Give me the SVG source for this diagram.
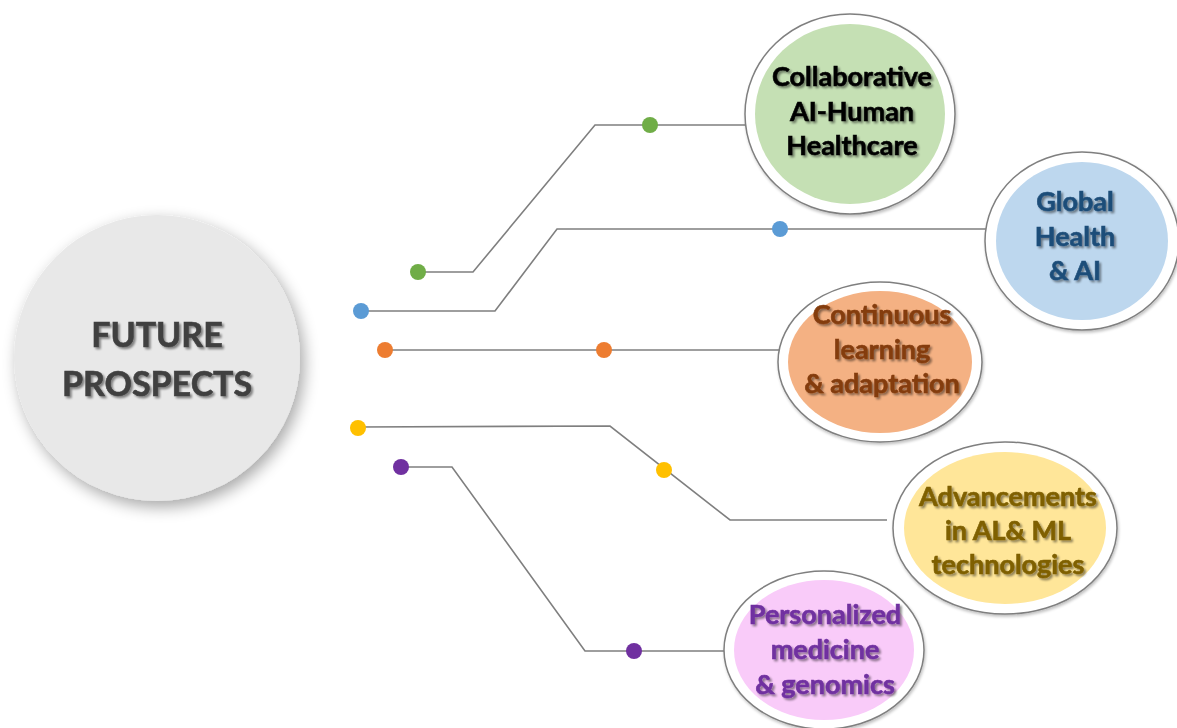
<svg xmlns="http://www.w3.org/2000/svg" width="1177" height="728" viewBox="0 0 1177 728">
<defs>
<filter id="bigShadow" x="-20%" y="-20%" width="150%" height="150%">
<feGaussianBlur in="SourceAlpha" stdDeviation="8"/>
<feOffset dx="4" dy="6" result="b"/>
<feComponentTransfer><feFuncA type="linear" slope="0.35"/></feComponentTransfer>
<feMerge><feMergeNode/><feMergeNode in="SourceGraphic"/></feMerge>
</filter>
<filter id="txtShadow" x="-10%" y="-20%" width="120%" height="150%">
<feGaussianBlur in="SourceAlpha" stdDeviation="1"/>
<feOffset dx="1.5" dy="1.5"/>
<feComponentTransfer><feFuncA type="linear" slope="0.45"/></feComponentTransfer>
<feMerge><feMergeNode/><feMergeNode in="SourceGraphic"/></feMerge>
</filter>
<filter id="ringShadow" x="-10%" y="-10%" width="120%" height="120%">
<feGaussianBlur in="SourceAlpha" stdDeviation="1.5"/>
<feOffset dx="1" dy="1.5"/>
<feComponentTransfer><feFuncA type="linear" slope="0.25"/></feComponentTransfer>
<feMerge><feMergeNode/><feMergeNode in="SourceGraphic"/></feMerge>
</filter>
<style>
.ring{fill:#ffffff;stroke:#7f7f7f;stroke-width:1.5}
.lbl{font-family:Lato,"Open Sans","Liberation Sans",sans-serif;font-weight:700;font-size:27px;text-anchor:middle;stroke-width:0.6}
.conn{fill:none;stroke:#7f7f7f;stroke-width:1.6}
.title{font-family:Lato,"Open Sans","Liberation Sans",sans-serif;font-weight:700;font-size:34px;text-anchor:middle;fill:#404040;stroke:#404040;stroke-width:0.6}
</style>
</defs>
<rect width="1177" height="728" fill="#ffffff"/>

<g id="center">
<circle cx="157" cy="358" r="143" fill="#e8e8e8" filter="url(#bigShadow)"/>
<g filter="url(#txtShadow)">
<text class="title" x="157" y="347">FUTURE</text>
<text class="title" x="157" y="396">PROSPECTS</text>
</g>
</g>

<g id="connectors">
<polyline class="conn" points="418,272 473,272 595,125 745,125"/>
<polyline class="conn" points="361,311 495,311 557,229 986,229"/>
<polyline class="conn" points="385,350 780,350"/>
<polyline class="conn" points="358,427 610,426 730,520 887,520"/>
<polyline class="conn" points="401,467 452,467 585,651 725,651"/>
<circle cx="418" cy="272" r="8" fill="#70ad47"/>
<circle cx="650" cy="125" r="8" fill="#70ad47"/>
<circle cx="361" cy="311" r="8" fill="#5b9bd5"/>
<circle cx="780" cy="229" r="8" fill="#5b9bd5"/>
<circle cx="385" cy="350" r="8" fill="#ed7d31"/>
<circle cx="604" cy="350" r="8" fill="#ed7d31"/>
<circle cx="358" cy="428" r="8" fill="#ffc000"/>
<circle cx="664" cy="470" r="8" fill="#ffc000"/>
<circle cx="401" cy="467" r="8" fill="#7030a0"/>
<circle cx="634" cy="651" r="8" fill="#7030a0"/>
</g>

<g id="node-collab">
<ellipse class="ring" cx="850" cy="114" rx="105" ry="100" filter="url(#ringShadow)"/>
<ellipse cx="850" cy="114" rx="95" ry="90" fill="#c5e0b4"/>
<g class="lbl" fill="#000000" stroke="#000000" filter="url(#txtShadow)">
<text x="852" y="86">Collaborative</text>
<text x="852" y="121">AI-Human</text>
<text x="852" y="155">Healthcare</text>
</g>
</g>

<g id="node-global">
<ellipse class="ring" cx="1082" cy="241" rx="97" ry="89" filter="url(#ringShadow)"/>
<ellipse cx="1082" cy="241" rx="86" ry="79" fill="#bdd7ee"/>
<g class="lbl" fill="#1f4e79" stroke="#1f4e79" filter="url(#txtShadow)">
<text x="1075" y="211">Global</text>
<text x="1075" y="246">Health</text>
<text x="1075" y="280">&amp; AI</text>
</g>
</g>

<g id="node-continuous">
<ellipse class="ring" cx="880" cy="362" rx="102" ry="80" filter="url(#ringShadow)"/>
<ellipse cx="880" cy="362" rx="92" ry="71" fill="#f4b183"/>
<g class="lbl" fill="#843c0c" stroke="#843c0c" filter="url(#txtShadow)">
<text x="882" y="324">Continuous</text>
<text x="882" y="359">learning</text>
<text x="882" y="393">&amp; adaptation</text>
</g>
</g>

<g id="node-advancements">
<ellipse class="ring" cx="1005" cy="528" rx="112" ry="86" filter="url(#ringShadow)"/>
<ellipse cx="1005" cy="528" rx="101" ry="76" fill="#ffe699"/>
<g class="lbl" fill="#7f6000" stroke="#7f6000" filter="url(#txtShadow)">
<text x="1008" y="506">Advancements</text>
<text x="1008" y="540">in AL&amp; ML</text>
<text x="1008" y="574">technologies</text>
</g>
</g>

<g id="node-personalized">
<ellipse class="ring" cx="824" cy="650" rx="100" ry="79" filter="url(#ringShadow)"/>
<ellipse cx="824" cy="650" rx="90" ry="70" fill="#f9cbf9"/>
<g class="lbl" fill="#7030a0" stroke="#7030a0" filter="url(#txtShadow)">
<text x="825" y="624">Personalized</text>
<text x="825" y="659">medicine</text>
<text x="825" y="694">&amp; genomics</text>
</g>
</g>
</svg>
